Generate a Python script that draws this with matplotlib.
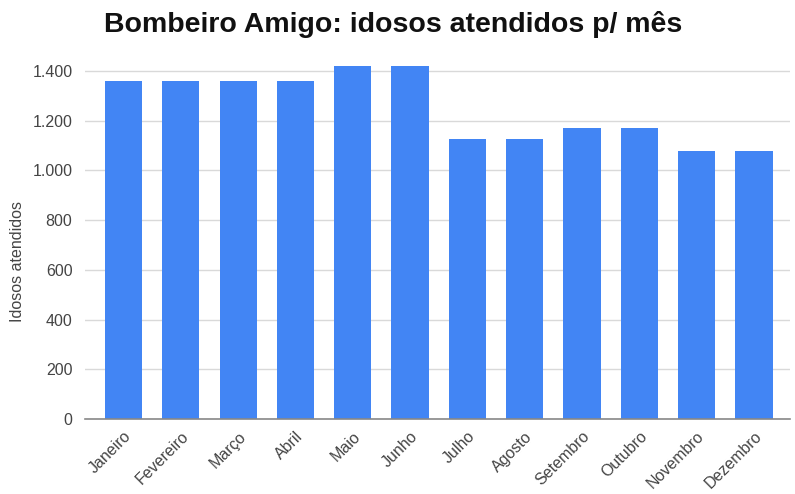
import matplotlib
matplotlib.use("Agg")
import matplotlib.pyplot as plt
from matplotlib.ticker import FuncFormatter

months = ["Janeiro", "Fevereiro", "Março", "Abril", "Maio", "Junho",
          "Julho", "Agosto", "Setembro", "Outubro", "Novembro", "Dezembro"]
values = [1360, 1360, 1360, 1360, 1420, 1420, 1125, 1125, 1170, 1170, 1080, 1080]
yticks = [0, 200, 400, 600, 800, 1000, 1200, 1400]

plt.rcParams['font.family'] = ['Liberation Sans', 'DejaVu Sans']

fig = plt.figure(figsize=(7.95, 4.94), dpi=100)
ax = fig.add_axes([85/795, 75/494, (790-85)/795, (442.9-75)/494])

x = list(range(len(months)))
ax.bar(x, values, width=0.65, color="#4285F4", zorder=3)

ax.set_xlim(-0.672, 11.63)
ax.set_ylim(0, 1480)
ax.set_yticks(yticks)
ax.yaxis.set_major_formatter(FuncFormatter(lambda v, p: f"{int(v):,}".replace(",", ".")))
ax.grid(axis="y", color="#d9d9d9", linewidth=1, zorder=0)
ax.set_axisbelow(True)
for s in ["top", "right", "left"]:
    ax.spines[s].set_visible(False)
ax.spines["bottom"].set_color("#888888")
ax.spines["bottom"].set_linewidth(1.2)
ax.spines["bottom"].set_zorder(4)

ax.tick_params(axis="y", length=0, pad=9, labelsize=11.5, labelcolor="#444444")
ax.tick_params(axis="x", length=0, pad=7, labelsize=11.5, labelcolor="#444444")
ax.set_xticks(x)
ax.set_xticklabels(months, rotation=45, ha="right", rotation_mode="anchor")

fig.text(18/795, 1 - 262/494, "Idosos atendidos", rotation=90,
         ha="center", va="center", fontsize=11.5, color="#444444")

fig.text(393/795, 1 - 25/494, "Bombeiro Amigo: idosos atendidos p/ mês",
         ha="center", va="center", fontsize=20.5, fontweight="bold", color="#111111")

fig.savefig("out.png", dpi=100)
